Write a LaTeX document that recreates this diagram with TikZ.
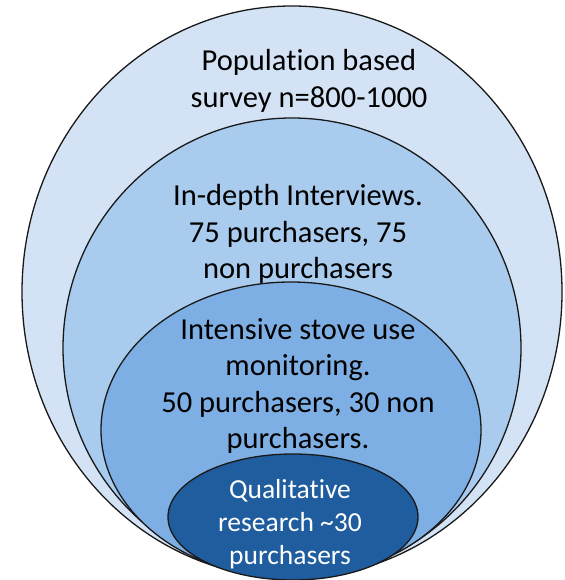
\documentclass[tikz,border=0pt]{standalone}
\usepackage{fontspec}
\setmainfont[Ligatures=NoCommon]{Carlito}
\usetikzlibrary{shapes.geometric}

\definecolor{ringA}{HTML}{D3E3F5}
\definecolor{ringB}{HTML}{A9CBEE}
\definecolor{ringC}{HTML}{7EAFE4}
\definecolor{ringD}{HTML}{1F5D9F}

\begin{document}
\begin{tikzpicture}[x=1pt, y=1pt,
    ring/.style = {draw=black!90, line width=1.3pt, shape=ellipse, inner sep=0pt},
    label/.style = {align=center, inner sep=0pt,
                    font=\fontsize{30.5}{36.3}\selectfont}]
\useasboundingbox (0,0) rectangle (564,580);

\node [ring, fill=ringA, minimum width=540, minimum height=572] (survey) at (292,288) {};
\node [ring, fill=ringB, minimum width=458, minimum height=460] (interviews) at (292,232) {};
\node [ring, fill=ringC, minimum width=380, minimum height=296] (monitoring) at (291,150) {};
\node [ring, fill=ringD, minimum width=250, minimum height=126] (qualitative) at (293,63) {};

\node [label] (surveytxt) at (309,499) {Population based\\survey n=800-1000};
\node [label] (interviewstxt) at (298,346) {In-depth Interviews.\\75 purchasers, 75\\non purchasers};
\node [label] (monitoringtxt) at (298,194) {Intensive stove use\\monitoring.\\50 purchasers, 30 non\\purchasers.};
\node [label, text=white, font=\fontsize{27.5}{33}\selectfont] (qualitativetxt) at (290,56)
  {Qualitative\\research \textasciitilde30\\purchasers};

\end{tikzpicture}
\end{document}
